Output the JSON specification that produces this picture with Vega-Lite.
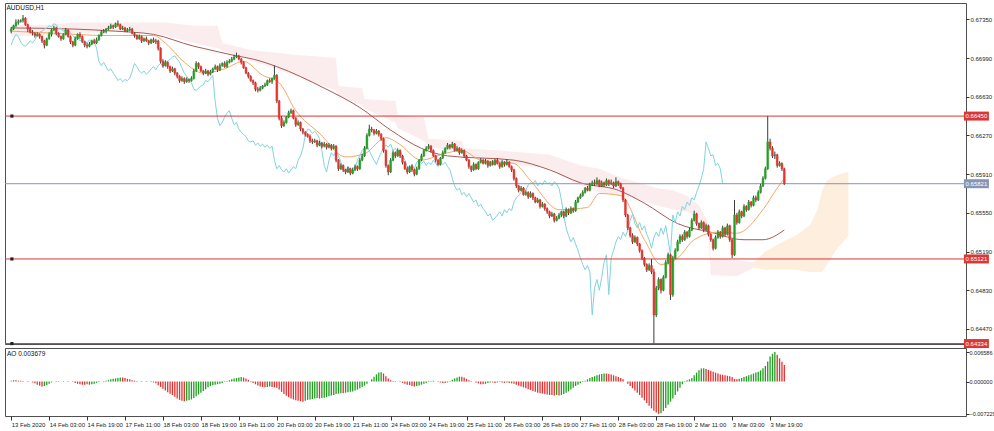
{
"$schema": "https://vega.github.io/schema/vega-lite/v6.json",
"background": "white",
"padding": {"left": 4, "top": 2, "right": 0, "bottom": 0},
"spacing": 4,
"bounds": "flush",
"config": {
 "view": {"stroke": "#505050", "strokeWidth": 1},
 "axis": {"labelFont": "Liberation Sans", "labelFontSize": 6, "labelColor": "#222222", "tickColor": "#333333", "domain": false, "grid": false, "title": null},
 "title": {"font": "Liberation Sans", "fontSize": 6.5, "fontWeight": "normal", "color": "#111111", "anchor": "start", "offset": -8, "dx": 2}
},
"datasets": {
"bars": [
{"i":0,"o":0.6724,"h":0.6728,"l":0.6722,"c":0.6726,"ao":0.0002},
{"i":1,"o":0.6726,"h":0.6730,"l":0.6725,"c":0.6729,"ao":0.0003},
{"i":2,"o":0.6729,"h":0.6735,"l":0.6728,"c":0.6732,"ao":0.0003},
{"i":3,"o":0.6732,"h":0.6735,"l":0.6730,"c":0.6733,"ao":0.0002},
{"i":4,"o":0.6733,"h":0.6735,"l":0.6732,"c":0.6734,"ao":0.0002},
{"i":5,"o":0.6734,"h":0.6739,"l":0.6732,"c":0.6736,"ao":0.0001},
{"i":6,"o":0.6736,"h":0.6737,"l":0.6729,"c":0.6730,"ao":0.0000},
{"i":7,"o":0.6730,"h":0.6731,"l":0.6723,"c":0.6726,"ao":-0.0001},
{"i":8,"o":0.6726,"h":0.6728,"l":0.6722,"c":0.6723,"ao":0.0000},
{"i":9,"o":0.6723,"h":0.6725,"l":0.6720,"c":0.6722,"ao":-0.0002},
{"i":10,"o":0.6722,"h":0.6723,"l":0.6718,"c":0.6720,"ao":-0.0004},
{"i":11,"o":0.6720,"h":0.6723,"l":0.6719,"c":0.6721,"ao":-0.0007},
{"i":12,"o":0.6721,"h":0.6722,"l":0.6717,"c":0.6719,"ao":-0.0009},
{"i":13,"o":0.6719,"h":0.6720,"l":0.6713,"c":0.6715,"ao":-0.0011},
{"i":14,"o":0.6715,"h":0.6716,"l":0.6708,"c":0.6711,"ao":-0.0010},
{"i":15,"o":0.6711,"h":0.6718,"l":0.6710,"c":0.6717,"ao":-0.0008},
{"i":16,"o":0.6717,"h":0.6723,"l":0.6716,"c":0.6721,"ao":-0.0005},
{"i":17,"o":0.6721,"h":0.6726,"l":0.6719,"c":0.6725,"ao":-0.0002},
{"i":18,"o":0.6725,"h":0.6729,"l":0.6724,"c":0.6727,"ao":0.0000},
{"i":19,"o":0.6727,"h":0.6728,"l":0.6720,"c":0.6722,"ao":0.0001},
{"i":20,"o":0.6722,"h":0.6723,"l":0.6718,"c":0.6719,"ao":0.0001},
{"i":21,"o":0.6719,"h":0.6720,"l":0.6715,"c":0.6717,"ao":0.0000},
{"i":22,"o":0.6717,"h":0.6722,"l":0.6716,"c":0.6721,"ao":-0.0001},
{"i":23,"o":0.6721,"h":0.6727,"l":0.6720,"c":0.6725,"ao":0.0000},
{"i":24,"o":0.6725,"h":0.6726,"l":0.6718,"c":0.6719,"ao":0.0001},
{"i":25,"o":0.6719,"h":0.6720,"l":0.6712,"c":0.6714,"ao":0.0000},
{"i":26,"o":0.6714,"h":0.6715,"l":0.6709,"c":0.6711,"ao":-0.0001},
{"i":27,"o":0.6711,"h":0.6719,"l":0.6710,"c":0.6717,"ao":-0.0003},
{"i":28,"o":0.6717,"h":0.6722,"l":0.6716,"c":0.6721,"ao":-0.0005},
{"i":29,"o":0.6721,"h":0.6723,"l":0.6717,"c":0.6719,"ao":-0.0006},
{"i":30,"o":0.6719,"h":0.6720,"l":0.6713,"c":0.6714,"ao":-0.0007},
{"i":31,"o":0.6714,"h":0.6715,"l":0.6709,"c":0.6711,"ao":-0.0007},
{"i":32,"o":0.6711,"h":0.6713,"l":0.6708,"c":0.6710,"ao":-0.0006},
{"i":33,"o":0.6710,"h":0.6714,"l":0.6709,"c":0.6712,"ao":-0.0007},
{"i":34,"o":0.6712,"h":0.6716,"l":0.6711,"c":0.6715,"ao":-0.0006},
{"i":35,"o":0.6715,"h":0.6717,"l":0.6712,"c":0.6713,"ao":-0.0005},
{"i":36,"o":0.6713,"h":0.6718,"l":0.6712,"c":0.6716,"ao":-0.0003},
{"i":37,"o":0.6716,"h":0.6721,"l":0.6715,"c":0.6720,"ao":-0.0001},
{"i":38,"o":0.6720,"h":0.6725,"l":0.6719,"c":0.6723,"ao":0.0000},
{"i":39,"o":0.6723,"h":0.6726,"l":0.6722,"c":0.6724,"ao":0.0001},
{"i":40,"o":0.6724,"h":0.6727,"l":0.6722,"c":0.6726,"ao":0.0002},
{"i":41,"o":0.6726,"h":0.6729,"l":0.6725,"c":0.6727,"ao":0.0003},
{"i":42,"o":0.6727,"h":0.6731,"l":0.6726,"c":0.6729,"ao":0.0005},
{"i":43,"o":0.6729,"h":0.6730,"l":0.6726,"c":0.6728,"ao":0.0006},
{"i":44,"o":0.6728,"h":0.6732,"l":0.6727,"c":0.6731,"ao":0.0007},
{"i":45,"o":0.6731,"h":0.6734,"l":0.6728,"c":0.6730,"ao":0.0008},
{"i":46,"o":0.6730,"h":0.6731,"l":0.6725,"c":0.6726,"ao":0.0009},
{"i":47,"o":0.6726,"h":0.6729,"l":0.6725,"c":0.6727,"ao":0.0009},
{"i":48,"o":0.6727,"h":0.6728,"l":0.6723,"c":0.6724,"ao":0.0008},
{"i":49,"o":0.6724,"h":0.6727,"l":0.6723,"c":0.6725,"ao":0.0006},
{"i":50,"o":0.6725,"h":0.6728,"l":0.6724,"c":0.6726,"ao":0.0005},
{"i":51,"o":0.6726,"h":0.6727,"l":0.6721,"c":0.6722,"ao":0.0003},
{"i":52,"o":0.6722,"h":0.6723,"l":0.6718,"c":0.6720,"ao":0.0002},
{"i":53,"o":0.6720,"h":0.6721,"l":0.6716,"c":0.6717,"ao":0.0001},
{"i":54,"o":0.6717,"h":0.6721,"l":0.6716,"c":0.6719,"ao":0.0000},
{"i":55,"o":0.6719,"h":0.6720,"l":0.6713,"c":0.6715,"ao":0.0001},
{"i":56,"o":0.6715,"h":0.6718,"l":0.6714,"c":0.6717,"ao":0.0000},
{"i":57,"o":0.6717,"h":0.6719,"l":0.6714,"c":0.6715,"ao":-0.0001},
{"i":58,"o":0.6715,"h":0.6716,"l":0.6711,"c":0.6713,"ao":0.0000},
{"i":59,"o":0.6713,"h":0.6717,"l":0.6712,"c":0.6716,"ao":-0.0001},
{"i":60,"o":0.6716,"h":0.6718,"l":0.6713,"c":0.6714,"ao":-0.0002},
{"i":61,"o":0.6714,"h":0.6717,"l":0.6712,"c":0.6715,"ao":-0.0004},
{"i":62,"o":0.6715,"h":0.6716,"l":0.6706,"c":0.6708,"ao":-0.0008},
{"i":63,"o":0.6708,"h":0.6709,"l":0.6694,"c":0.6696,"ao":-0.0012},
{"i":64,"o":0.6696,"h":0.6698,"l":0.6690,"c":0.6692,"ao":-0.0016},
{"i":65,"o":0.6692,"h":0.6697,"l":0.6691,"c":0.6695,"ao":-0.0020},
{"i":66,"o":0.6695,"h":0.6696,"l":0.6689,"c":0.6691,"ao":-0.0024},
{"i":67,"o":0.6691,"h":0.6692,"l":0.6685,"c":0.6687,"ao":-0.0027},
{"i":68,"o":0.6687,"h":0.6691,"l":0.6686,"c":0.6689,"ao":-0.0030},
{"i":69,"o":0.6689,"h":0.6690,"l":0.6683,"c":0.6685,"ao":-0.0034},
{"i":70,"o":0.6685,"h":0.6686,"l":0.6680,"c":0.6682,"ao":-0.0038},
{"i":71,"o":0.6682,"h":0.6683,"l":0.6676,"c":0.6678,"ao":-0.0041},
{"i":72,"o":0.6678,"h":0.6682,"l":0.6677,"c":0.6680,"ao":-0.0043},
{"i":73,"o":0.6680,"h":0.6681,"l":0.6675,"c":0.6677,"ao":-0.0044},
{"i":74,"o":0.6677,"h":0.6681,"l":0.6676,"c":0.6679,"ao":-0.0043},
{"i":75,"o":0.6679,"h":0.6680,"l":0.6676,"c":0.6678,"ao":-0.0042},
{"i":76,"o":0.6678,"h":0.6682,"l":0.6677,"c":0.6680,"ao":-0.0040},
{"i":77,"o":0.6680,"h":0.6689,"l":0.6679,"c":0.6687,"ao":-0.0037},
{"i":78,"o":0.6687,"h":0.6696,"l":0.6686,"c":0.6694,"ao":-0.0033},
{"i":79,"o":0.6694,"h":0.6695,"l":0.6689,"c":0.6691,"ao":-0.0029},
{"i":80,"o":0.6691,"h":0.6692,"l":0.6686,"c":0.6687,"ao":-0.0025},
{"i":81,"o":0.6687,"h":0.6688,"l":0.6683,"c":0.6685,"ao":-0.0021},
{"i":82,"o":0.6685,"h":0.6689,"l":0.6684,"c":0.6687,"ao":-0.0017},
{"i":83,"o":0.6687,"h":0.6688,"l":0.6682,"c":0.6684,"ao":-0.0013},
{"i":84,"o":0.6684,"h":0.6688,"l":0.6683,"c":0.6686,"ao":-0.0010},
{"i":85,"o":0.6686,"h":0.6690,"l":0.6685,"c":0.6689,"ao":-0.0008},
{"i":86,"o":0.6689,"h":0.6693,"l":0.6688,"c":0.6691,"ao":-0.0007},
{"i":87,"o":0.6691,"h":0.6692,"l":0.6686,"c":0.6688,"ao":-0.0006},
{"i":88,"o":0.6688,"h":0.6694,"l":0.6687,"c":0.6692,"ao":-0.0005},
{"i":89,"o":0.6692,"h":0.6695,"l":0.6691,"c":0.6694,"ao":-0.0003},
{"i":90,"o":0.6694,"h":0.6696,"l":0.6690,"c":0.6691,"ao":-0.0001},
{"i":91,"o":0.6691,"h":0.6697,"l":0.6690,"c":0.6695,"ao":0.0001},
{"i":92,"o":0.6695,"h":0.6698,"l":0.6694,"c":0.6696,"ao":0.0003},
{"i":93,"o":0.6696,"h":0.6700,"l":0.6695,"c":0.6698,"ao":0.0005},
{"i":94,"o":0.6698,"h":0.6702,"l":0.6697,"c":0.6700,"ao":0.0007},
{"i":95,"o":0.6700,"h":0.6704,"l":0.6699,"c":0.6701,"ao":0.0008},
{"i":96,"o":0.6701,"h":0.6702,"l":0.6697,"c":0.6698,"ao":0.0009},
{"i":97,"o":0.6698,"h":0.6699,"l":0.6693,"c":0.6695,"ao":0.0010},
{"i":98,"o":0.6695,"h":0.6696,"l":0.6689,"c":0.6690,"ao":0.0009},
{"i":99,"o":0.6690,"h":0.6691,"l":0.6684,"c":0.6685,"ao":0.0007},
{"i":100,"o":0.6685,"h":0.6686,"l":0.6680,"c":0.6682,"ao":0.0004},
{"i":101,"o":0.6682,"h":0.6683,"l":0.6677,"c":0.6678,"ao":0.0001},
{"i":102,"o":0.6678,"h":0.6679,"l":0.6674,"c":0.6676,"ao":-0.0003},
{"i":103,"o":0.6676,"h":0.6677,"l":0.6668,"c":0.6670,"ao":-0.0006},
{"i":104,"o":0.6670,"h":0.6672,"l":0.6667,"c":0.6669,"ao":-0.0009},
{"i":105,"o":0.6669,"h":0.6673,"l":0.6668,"c":0.6671,"ao":-0.0011},
{"i":106,"o":0.6671,"h":0.6674,"l":0.6670,"c":0.6673,"ao":-0.0012},
{"i":107,"o":0.6673,"h":0.6676,"l":0.6672,"c":0.6674,"ao":-0.0013},
{"i":108,"o":0.6674,"h":0.6679,"l":0.6673,"c":0.6678,"ao":-0.0012},
{"i":109,"o":0.6678,"h":0.6680,"l":0.6676,"c":0.6677,"ao":-0.0011},
{"i":110,"o":0.6677,"h":0.6681,"l":0.6675,"c":0.6680,"ao":-0.0012},
{"i":111,"o":0.6680,"h":0.6692,"l":0.6679,"c":0.6683,"ao":-0.0013},
{"i":112,"o":0.6683,"h":0.6684,"l":0.6657,"c":0.6659,"ao":-0.0014},
{"i":113,"o":0.6659,"h":0.6660,"l":0.6641,"c":0.6643,"ao":-0.0018},
{"i":114,"o":0.6643,"h":0.6645,"l":0.6634,"c":0.6636,"ao":-0.0023},
{"i":115,"o":0.6636,"h":0.6641,"l":0.6635,"c":0.6639,"ao":-0.0028},
{"i":116,"o":0.6639,"h":0.6645,"l":0.6638,"c":0.6644,"ao":-0.0032},
{"i":117,"o":0.6644,"h":0.6650,"l":0.6643,"c":0.6648,"ao":-0.0035},
{"i":118,"o":0.6648,"h":0.6652,"l":0.6647,"c":0.6650,"ao":-0.0038},
{"i":119,"o":0.6650,"h":0.6651,"l":0.6642,"c":0.6643,"ao":-0.0040},
{"i":120,"o":0.6643,"h":0.6644,"l":0.6635,"c":0.6637,"ao":-0.0042},
{"i":121,"o":0.6637,"h":0.6641,"l":0.6636,"c":0.6639,"ao":-0.0043},
{"i":122,"o":0.6639,"h":0.6640,"l":0.6631,"c":0.6633,"ao":-0.0044},
{"i":123,"o":0.6633,"h":0.6634,"l":0.6628,"c":0.6630,"ao":-0.0045},
{"i":124,"o":0.6630,"h":0.6631,"l":0.6626,"c":0.6628,"ao":-0.0043},
{"i":125,"o":0.6628,"h":0.6629,"l":0.6625,"c":0.6626,"ao":-0.0041},
{"i":126,"o":0.6626,"h":0.6628,"l":0.6620,"c":0.6622,"ao":-0.0040},
{"i":127,"o":0.6622,"h":0.6624,"l":0.6619,"c":0.6621,"ao":-0.0039},
{"i":128,"o":0.6621,"h":0.6624,"l":0.6620,"c":0.6622,"ao":-0.0038},
{"i":129,"o":0.6622,"h":0.6623,"l":0.6616,"c":0.6618,"ao":-0.0037},
{"i":130,"o":0.6618,"h":0.6622,"l":0.6617,"c":0.6620,"ao":-0.0038},
{"i":131,"o":0.6620,"h":0.6621,"l":0.6615,"c":0.6617,"ao":-0.0037},
{"i":132,"o":0.6617,"h":0.6621,"l":0.6616,"c":0.6619,"ao":-0.0036},
{"i":133,"o":0.6619,"h":0.6620,"l":0.6614,"c":0.6616,"ao":-0.0035},
{"i":134,"o":0.6616,"h":0.6620,"l":0.6615,"c":0.6618,"ao":-0.0033},
{"i":135,"o":0.6618,"h":0.6619,"l":0.6613,"c":0.6615,"ao":-0.0031},
{"i":136,"o":0.6615,"h":0.6619,"l":0.6614,"c":0.6617,"ao":-0.0030},
{"i":137,"o":0.6617,"h":0.6618,"l":0.6602,"c":0.6604,"ao":-0.0028},
{"i":138,"o":0.6604,"h":0.6605,"l":0.6594,"c":0.6596,"ao":-0.0027},
{"i":139,"o":0.6596,"h":0.6601,"l":0.6595,"c":0.6599,"ao":-0.0026},
{"i":140,"o":0.6599,"h":0.6600,"l":0.6593,"c":0.6595,"ao":-0.0026},
{"i":141,"o":0.6595,"h":0.6596,"l":0.6591,"c":0.6593,"ao":-0.0025},
{"i":142,"o":0.6593,"h":0.6598,"l":0.6592,"c":0.6596,"ao":-0.0024},
{"i":143,"o":0.6596,"h":0.6597,"l":0.6590,"c":0.6592,"ao":-0.0023},
{"i":144,"o":0.6592,"h":0.6597,"l":0.6591,"c":0.6595,"ao":-0.0022},
{"i":145,"o":0.6595,"h":0.6600,"l":0.6594,"c":0.6598,"ao":-0.0020},
{"i":146,"o":0.6598,"h":0.6599,"l":0.6594,"c":0.6596,"ao":-0.0018},
{"i":147,"o":0.6596,"h":0.6606,"l":0.6595,"c":0.6604,"ao":-0.0015},
{"i":148,"o":0.6604,"h":0.6610,"l":0.6603,"c":0.6608,"ao":-0.0012},
{"i":149,"o":0.6608,"h":0.6617,"l":0.6607,"c":0.6615,"ao":-0.0009},
{"i":150,"o":0.6615,"h":0.6629,"l":0.6614,"c":0.6627,"ao":-0.0005},
{"i":151,"o":0.6627,"h":0.6637,"l":0.6626,"c":0.6633,"ao":0.0000},
{"i":152,"o":0.6633,"h":0.6635,"l":0.6630,"c":0.6632,"ao":0.0005},
{"i":153,"o":0.6632,"h":0.6633,"l":0.6627,"c":0.6629,"ao":0.0011},
{"i":154,"o":0.6629,"h":0.6633,"l":0.6628,"c":0.6631,"ao":0.0016},
{"i":155,"o":0.6631,"h":0.6632,"l":0.6626,"c":0.6628,"ao":0.0020},
{"i":156,"o":0.6628,"h":0.6629,"l":0.6622,"c":0.6624,"ao":0.0021},
{"i":157,"o":0.6624,"h":0.6625,"l":0.6611,"c":0.6613,"ao":0.0018},
{"i":158,"o":0.6613,"h":0.6614,"l":0.6597,"c":0.6599,"ao":0.0012},
{"i":159,"o":0.6599,"h":0.6600,"l":0.6590,"c":0.6593,"ao":0.0007},
{"i":160,"o":0.6593,"h":0.6606,"l":0.6592,"c":0.6604,"ao":0.0003},
{"i":161,"o":0.6604,"h":0.6613,"l":0.6603,"c":0.6611,"ao":0.0001},
{"i":162,"o":0.6611,"h":0.6612,"l":0.6606,"c":0.6608,"ao":-0.0001},
{"i":163,"o":0.6608,"h":0.6615,"l":0.6607,"c":0.6613,"ao":0.0000},
{"i":164,"o":0.6613,"h":0.6614,"l":0.6606,"c":0.6608,"ao":-0.0001},
{"i":165,"o":0.6608,"h":0.6609,"l":0.6600,"c":0.6602,"ao":-0.0003},
{"i":166,"o":0.6602,"h":0.6603,"l":0.6595,"c":0.6596,"ao":-0.0005},
{"i":167,"o":0.6596,"h":0.6598,"l":0.6591,"c":0.6593,"ao":-0.0007},
{"i":168,"o":0.6593,"h":0.6599,"l":0.6592,"c":0.6598,"ao":-0.0008},
{"i":169,"o":0.6598,"h":0.6600,"l":0.6593,"c":0.6595,"ao":-0.0010},
{"i":170,"o":0.6595,"h":0.6596,"l":0.6589,"c":0.6591,"ao":-0.0011},
{"i":171,"o":0.6591,"h":0.6598,"l":0.6590,"c":0.6596,"ao":-0.0010},
{"i":172,"o":0.6596,"h":0.6605,"l":0.6595,"c":0.6604,"ao":-0.0009},
{"i":173,"o":0.6604,"h":0.6610,"l":0.6603,"c":0.6608,"ao":-0.0007},
{"i":174,"o":0.6608,"h":0.6614,"l":0.6607,"c":0.6613,"ao":-0.0005},
{"i":175,"o":0.6613,"h":0.6617,"l":0.6612,"c":0.6615,"ao":-0.0003},
{"i":176,"o":0.6615,"h":0.6619,"l":0.6614,"c":0.6617,"ao":-0.0001},
{"i":177,"o":0.6617,"h":0.6618,"l":0.6611,"c":0.6613,"ao":0.0001},
{"i":178,"o":0.6613,"h":0.6614,"l":0.6607,"c":0.6608,"ao":0.0002},
{"i":179,"o":0.6608,"h":0.6609,"l":0.6602,"c":0.6604,"ao":0.0000},
{"i":180,"o":0.6604,"h":0.6605,"l":0.6599,"c":0.6600,"ao":-0.0001},
{"i":181,"o":0.6600,"h":0.6607,"l":0.6599,"c":0.6606,"ao":-0.0002},
{"i":182,"o":0.6606,"h":0.6613,"l":0.6605,"c":0.6611,"ao":-0.0003},
{"i":183,"o":0.6611,"h":0.6616,"l":0.6610,"c":0.6615,"ao":-0.0003},
{"i":184,"o":0.6615,"h":0.6620,"l":0.6614,"c":0.6618,"ao":-0.0002},
{"i":185,"o":0.6618,"h":0.6619,"l":0.6614,"c":0.6616,"ao":0.0001},
{"i":186,"o":0.6616,"h":0.6621,"l":0.6615,"c":0.6619,"ao":0.0004},
{"i":187,"o":0.6619,"h":0.6620,"l":0.6612,"c":0.6613,"ao":0.0007},
{"i":188,"o":0.6613,"h":0.6617,"l":0.6612,"c":0.6615,"ao":0.0009},
{"i":189,"o":0.6615,"h":0.6616,"l":0.6609,"c":0.6611,"ao":0.0011},
{"i":190,"o":0.6611,"h":0.6615,"l":0.6610,"c":0.6613,"ao":0.0011},
{"i":191,"o":0.6613,"h":0.6614,"l":0.6606,"c":0.6608,"ao":0.0009},
{"i":192,"o":0.6608,"h":0.6609,"l":0.6603,"c":0.6604,"ao":0.0006},
{"i":193,"o":0.6604,"h":0.6605,"l":0.6596,"c":0.6598,"ao":0.0003},
{"i":194,"o":0.6598,"h":0.6599,"l":0.6593,"c":0.6595,"ao":0.0001},
{"i":195,"o":0.6595,"h":0.6602,"l":0.6594,"c":0.6600,"ao":0.0000},
{"i":196,"o":0.6600,"h":0.6601,"l":0.6595,"c":0.6596,"ao":-0.0002},
{"i":197,"o":0.6596,"h":0.6603,"l":0.6595,"c":0.6602,"ao":-0.0004},
{"i":198,"o":0.6602,"h":0.6606,"l":0.6601,"c":0.6604,"ao":-0.0006},
{"i":199,"o":0.6604,"h":0.6605,"l":0.6600,"c":0.6601,"ao":-0.0006},
{"i":200,"o":0.6601,"h":0.6605,"l":0.6600,"c":0.6603,"ao":-0.0005},
{"i":201,"o":0.6603,"h":0.6604,"l":0.6597,"c":0.6599,"ao":-0.0003},
{"i":202,"o":0.6599,"h":0.6603,"l":0.6598,"c":0.6602,"ao":-0.0002},
{"i":203,"o":0.6602,"h":0.6604,"l":0.6599,"c":0.6600,"ao":-0.0002},
{"i":204,"o":0.6600,"h":0.6605,"l":0.6599,"c":0.6604,"ao":-0.0003},
{"i":205,"o":0.6604,"h":0.6606,"l":0.6600,"c":0.6601,"ao":-0.0002},
{"i":206,"o":0.6601,"h":0.6602,"l":0.6596,"c":0.6598,"ao":-0.0001},
{"i":207,"o":0.6598,"h":0.6604,"l":0.6597,"c":0.6602,"ao":-0.0002},
{"i":208,"o":0.6602,"h":0.6603,"l":0.6598,"c":0.6600,"ao":-0.0003},
{"i":209,"o":0.6600,"h":0.6605,"l":0.6599,"c":0.6602,"ao":-0.0002},
{"i":210,"o":0.6602,"h":0.6603,"l":0.6597,"c":0.6598,"ao":-0.0003},
{"i":211,"o":0.6598,"h":0.6599,"l":0.6593,"c":0.6595,"ao":-0.0004},
{"i":212,"o":0.6595,"h":0.6596,"l":0.6585,"c":0.6587,"ao":-0.0005},
{"i":213,"o":0.6587,"h":0.6588,"l":0.6578,"c":0.6580,"ao":-0.0007},
{"i":214,"o":0.6580,"h":0.6581,"l":0.6574,"c":0.6576,"ao":-0.0009},
{"i":215,"o":0.6576,"h":0.6580,"l":0.6575,"c":0.6578,"ao":-0.0011},
{"i":216,"o":0.6578,"h":0.6579,"l":0.6571,"c":0.6572,"ao":-0.0013},
{"i":217,"o":0.6572,"h":0.6576,"l":0.6571,"c":0.6574,"ao":-0.0015},
{"i":218,"o":0.6574,"h":0.6575,"l":0.6568,"c":0.6570,"ao":-0.0017},
{"i":219,"o":0.6570,"h":0.6575,"l":0.6569,"c":0.6573,"ao":-0.0019},
{"i":220,"o":0.6573,"h":0.6574,"l":0.6567,"c":0.6569,"ao":-0.0021},
{"i":221,"o":0.6569,"h":0.6570,"l":0.6564,"c":0.6565,"ao":-0.0023},
{"i":222,"o":0.6565,"h":0.6569,"l":0.6564,"c":0.6567,"ao":-0.0025},
{"i":223,"o":0.6567,"h":0.6568,"l":0.6559,"c":0.6561,"ao":-0.0026},
{"i":224,"o":0.6561,"h":0.6565,"l":0.6560,"c":0.6563,"ao":-0.0027},
{"i":225,"o":0.6563,"h":0.6564,"l":0.6557,"c":0.6559,"ao":-0.0028},
{"i":226,"o":0.6559,"h":0.6560,"l":0.6554,"c":0.6556,"ao":-0.0029},
{"i":227,"o":0.6556,"h":0.6557,"l":0.6550,"c":0.6552,"ao":-0.0030},
{"i":228,"o":0.6552,"h":0.6556,"l":0.6551,"c":0.6554,"ao":-0.0030},
{"i":229,"o":0.6554,"h":0.6555,"l":0.6546,"c":0.6548,"ao":-0.0031},
{"i":230,"o":0.6548,"h":0.6552,"l":0.6547,"c":0.6550,"ao":-0.0030},
{"i":231,"o":0.6550,"h":0.6555,"l":0.6549,"c":0.6553,"ao":-0.0031},
{"i":232,"o":0.6553,"h":0.6557,"l":0.6551,"c":0.6556,"ao":-0.0030},
{"i":233,"o":0.6556,"h":0.6557,"l":0.6550,"c":0.6552,"ao":-0.0028},
{"i":234,"o":0.6552,"h":0.6560,"l":0.6551,"c":0.6558,"ao":-0.0025},
{"i":235,"o":0.6558,"h":0.6559,"l":0.6553,"c":0.6555,"ao":-0.0022},
{"i":236,"o":0.6555,"h":0.6561,"l":0.6554,"c":0.6559,"ao":-0.0018},
{"i":237,"o":0.6559,"h":0.6560,"l":0.6555,"c":0.6557,"ao":-0.0014},
{"i":238,"o":0.6557,"h":0.6567,"l":0.6556,"c":0.6565,"ao":-0.0010},
{"i":239,"o":0.6565,"h":0.6570,"l":0.6564,"c":0.6569,"ao":-0.0007},
{"i":240,"o":0.6569,"h":0.6573,"l":0.6568,"c":0.6571,"ao":-0.0004},
{"i":241,"o":0.6571,"h":0.6576,"l":0.6570,"c":0.6574,"ao":-0.0001},
{"i":242,"o":0.6574,"h":0.6579,"l":0.6573,"c":0.6578,"ao":0.0002},
{"i":243,"o":0.6578,"h":0.6580,"l":0.6575,"c":0.6576,"ao":0.0005},
{"i":244,"o":0.6576,"h":0.6583,"l":0.6575,"c":0.6581,"ao":0.0008},
{"i":245,"o":0.6581,"h":0.6585,"l":0.6580,"c":0.6583,"ao":0.0010},
{"i":246,"o":0.6583,"h":0.6586,"l":0.6580,"c":0.6582,"ao":0.0012},
{"i":247,"o":0.6582,"h":0.6588,"l":0.6581,"c":0.6585,"ao":0.0014},
{"i":248,"o":0.6585,"h":0.6586,"l":0.6579,"c":0.6580,"ao":0.0016},
{"i":249,"o":0.6580,"h":0.6585,"l":0.6579,"c":0.6583,"ao":0.0017},
{"i":250,"o":0.6583,"h":0.6584,"l":0.6579,"c":0.6581,"ao":0.0018},
{"i":251,"o":0.6581,"h":0.6587,"l":0.6580,"c":0.6585,"ao":0.0018},
{"i":252,"o":0.6585,"h":0.6586,"l":0.6580,"c":0.6582,"ao":0.0017},
{"i":253,"o":0.6582,"h":0.6586,"l":0.6581,"c":0.6583,"ao":0.0016},
{"i":254,"o":0.6583,"h":0.6584,"l":0.6578,"c":0.6580,"ao":0.0014},
{"i":255,"o":0.6580,"h":0.6588,"l":0.6579,"c":0.6584,"ao":0.0012},
{"i":256,"o":0.6584,"h":0.6585,"l":0.6580,"c":0.6582,"ao":0.0010},
{"i":257,"o":0.6582,"h":0.6583,"l":0.6577,"c":0.6578,"ao":0.0008},
{"i":258,"o":0.6578,"h":0.6579,"l":0.6565,"c":0.6567,"ao":0.0005},
{"i":259,"o":0.6567,"h":0.6568,"l":0.6551,"c":0.6553,"ao":0.0000},
{"i":260,"o":0.6553,"h":0.6554,"l":0.6539,"c":0.6541,"ao":-0.0005},
{"i":261,"o":0.6541,"h":0.6542,"l":0.6532,"c":0.6534,"ao":-0.0010},
{"i":262,"o":0.6534,"h":0.6536,"l":0.6526,"c":0.6528,"ao":-0.0015},
{"i":263,"o":0.6528,"h":0.6534,"l":0.6527,"c":0.6532,"ao":-0.0020},
{"i":264,"o":0.6532,"h":0.6533,"l":0.6524,"c":0.6526,"ao":-0.0025},
{"i":265,"o":0.6526,"h":0.6527,"l":0.6518,"c":0.6520,"ao":-0.0030},
{"i":266,"o":0.6520,"h":0.6521,"l":0.6511,"c":0.6513,"ao":-0.0036},
{"i":267,"o":0.6513,"h":0.6514,"l":0.6505,"c":0.6507,"ao":-0.0042},
{"i":268,"o":0.6507,"h":0.6508,"l":0.6500,"c":0.6502,"ao":-0.0048},
{"i":269,"o":0.6502,"h":0.6508,"l":0.6501,"c":0.6506,"ao":-0.0054},
{"i":270,"o":0.6506,"h":0.6512,"l":0.6498,"c":0.6500,"ao":-0.0060},
{"i":271,"o":0.6500,"h":0.6503,"l":0.64334,"c":0.6460,"ao":-0.0065},
{"i":272,"o":0.6460,"h":0.6487,"l":0.6458,"c":0.6485,"ao":-0.0069},
{"i":273,"o":0.6485,"h":0.6495,"l":0.6483,"c":0.6493,"ao":-0.007229},
{"i":274,"o":0.6493,"h":0.6494,"l":0.6480,"c":0.6483,"ao":-0.0071},
{"i":275,"o":0.6483,"h":0.6497,"l":0.6482,"c":0.6495,"ao":-0.0066},
{"i":276,"o":0.6495,"h":0.6511,"l":0.6494,"c":0.6509,"ao":-0.0059},
{"i":277,"o":0.6509,"h":0.6518,"l":0.6507,"c":0.6516,"ao":-0.0052},
{"i":278,"o":0.6516,"h":0.6517,"l":0.6474,"c":0.6479,"ao":-0.0045},
{"i":279,"o":0.6479,"h":0.6515,"l":0.6477,"c":0.6513,"ao":-0.0038},
{"i":280,"o":0.6513,"h":0.6522,"l":0.6512,"c":0.6520,"ao":-0.0030},
{"i":281,"o":0.6520,"h":0.6530,"l":0.6519,"c":0.6528,"ao":-0.0022},
{"i":282,"o":0.6528,"h":0.6535,"l":0.6526,"c":0.6533,"ao":-0.0014},
{"i":283,"o":0.6533,"h":0.6535,"l":0.6528,"c":0.6530,"ao":-0.0006},
{"i":284,"o":0.6530,"h":0.6539,"l":0.6529,"c":0.6537,"ao":0.0001},
{"i":285,"o":0.6537,"h":0.6538,"l":0.6531,"c":0.6533,"ao":0.0003},
{"i":286,"o":0.6533,"h":0.6541,"l":0.6532,"c":0.6539,"ao":0.0005},
{"i":287,"o":0.6539,"h":0.6550,"l":0.6538,"c":0.6548,"ao":0.0008},
{"i":288,"o":0.6548,"h":0.6557,"l":0.6547,"c":0.6554,"ao":0.0014},
{"i":289,"o":0.6554,"h":0.6555,"l":0.6543,"c":0.6545,"ao":0.0020},
{"i":290,"o":0.6545,"h":0.6546,"l":0.6539,"c":0.6541,"ao":0.0025},
{"i":291,"o":0.6541,"h":0.6548,"l":0.6540,"c":0.6546,"ao":0.0029},
{"i":292,"o":0.6546,"h":0.6547,"l":0.6537,"c":0.6539,"ao":0.0030},
{"i":293,"o":0.6539,"h":0.6545,"l":0.6538,"c":0.6543,"ao":0.0028},
{"i":294,"o":0.6543,"h":0.6544,"l":0.6533,"c":0.6535,"ao":0.0026},
{"i":295,"o":0.6535,"h":0.6536,"l":0.6528,"c":0.6530,"ao":0.0024},
{"i":296,"o":0.6530,"h":0.6531,"l":0.6520,"c":0.6522,"ao":0.0022},
{"i":297,"o":0.6522,"h":0.6534,"l":0.6521,"c":0.6532,"ao":0.0020},
{"i":298,"o":0.6532,"h":0.6539,"l":0.6531,"c":0.6537,"ao":0.0018},
{"i":299,"o":0.6537,"h":0.6538,"l":0.6531,"c":0.6533,"ao":0.0016},
{"i":300,"o":0.6533,"h":0.6543,"l":0.6532,"c":0.6541,"ao":0.0015},
{"i":301,"o":0.6541,"h":0.6542,"l":0.6533,"c":0.6535,"ao":0.0014},
{"i":302,"o":0.6535,"h":0.6545,"l":0.6534,"c":0.6543,"ao":0.0013},
{"i":303,"o":0.6543,"h":0.6544,"l":0.6528,"c":0.6530,"ao":0.0012},
{"i":304,"o":0.6530,"h":0.6531,"l":0.6513,"c":0.6516,"ao":0.0010},
{"i":305,"o":0.6516,"h":0.6567,"l":0.6515,"c":0.6553,"ao":0.0006},
{"i":306,"o":0.6553,"h":0.6555,"l":0.6544,"c":0.6546,"ao":0.0005},
{"i":307,"o":0.6546,"h":0.6558,"l":0.6545,"c":0.6556,"ao":0.0006},
{"i":308,"o":0.6556,"h":0.6557,"l":0.6550,"c":0.6552,"ao":0.0008},
{"i":309,"o":0.6552,"h":0.6563,"l":0.6551,"c":0.6561,"ao":0.0010},
{"i":310,"o":0.6561,"h":0.6562,"l":0.6556,"c":0.6558,"ao":0.0012},
{"i":311,"o":0.6558,"h":0.6567,"l":0.6557,"c":0.6565,"ao":0.0014},
{"i":312,"o":0.6565,"h":0.6566,"l":0.6560,"c":0.6562,"ao":0.0016},
{"i":313,"o":0.6562,"h":0.6571,"l":0.6561,"c":0.6569,"ao":0.0018},
{"i":314,"o":0.6569,"h":0.6571,"l":0.6565,"c":0.6567,"ao":0.0020},
{"i":315,"o":0.6567,"h":0.6576,"l":0.6566,"c":0.6574,"ao":0.0022},
{"i":316,"o":0.6574,"h":0.6582,"l":0.6573,"c":0.6580,"ao":0.0025},
{"i":317,"o":0.6580,"h":0.6589,"l":0.6579,"c":0.6587,"ao":0.0030},
{"i":318,"o":0.6587,"h":0.6598,"l":0.6586,"c":0.6596,"ao":0.0035},
{"i":319,"o":0.6596,"h":0.6645,"l":0.6595,"c":0.6621,"ao":0.0045},
{"i":320,"o":0.6621,"h":0.6624,"l":0.6613,"c":0.6615,"ao":0.0056},
{"i":321,"o":0.6615,"h":0.6617,"l":0.6606,"c":0.6608,"ao":0.0062},
{"i":322,"o":0.6608,"h":0.6612,"l":0.6605,"c":0.6609,"ao":0.006586},
{"i":323,"o":0.6609,"h":0.6610,"l":0.6597,"c":0.6599,"ao":0.0060},
{"i":324,"o":0.6599,"h":0.6603,"l":0.6598,"c":0.6601,"ao":0.0052},
{"i":325,"o":0.6601,"h":0.6602,"l":0.6594,"c":0.6596,"ao":0.0044},
{"i":326,"o":0.6596,"h":0.6597,"l":0.6581,"c":0.65821,"ao":0.003679}
],
"sma": [
{"i":0,"v":0.6727},{"i":26,"v":0.6726},{"i":44,"v":0.6724},{"i":60,"v":0.6721},{"i":77,"v":0.6710},{"i":81,"v":0.6708},{"i":95,"v":0.6701},{"i":102,"v":0.6698},{"i":112,"v":0.6691},{"i":132,"v":0.6671},{"i":147,"v":0.6653},{"i":160,"v":0.6632},{"i":173,"v":0.6615},{"i":184,"v":0.6608},{"i":212,"v":0.6604},{"i":227,"v":0.6595},{"i":240,"v":0.6583},{"i":256,"v":0.6576},{"i":267,"v":0.6564},{"i":281,"v":0.6545},{"i":295,"v":0.6537},{"i":309,"v":0.6530},{"i":317,"v":0.6530},{"i":326,"v":0.6539}
],
"fast": [
{"i":0,"v":0.6724},{"i":19,"v":0.6722},{"i":40,"v":0.6720},{"i":60,"v":0.6720},{"i":65,"v":0.6713},{"i":73,"v":0.6695},{"i":81,"v":0.6685},{"i":90,"v":0.6689},{"i":98,"v":0.6696},{"i":106,"v":0.6683},{"i":113,"v":0.6676},{"i":120,"v":0.6650},{"i":130,"v":0.6629},{"i":141,"v":0.6607},{"i":149,"v":0.6610},{"i":158,"v":0.6625},{"i":163,"v":0.6620},{"i":173,"v":0.6604},{"i":181,"v":0.6609},{"i":190,"v":0.6613},{"i":198,"v":0.6604},{"i":212,"v":0.6601},{"i":219,"v":0.6585},{"i":231,"v":0.6558},{"i":243,"v":0.6560},{"i":248,"v":0.6573},{"i":257,"v":0.6571},{"i":267,"v":0.6530},{"i":274,"v":0.6507},{"i":281,"v":0.6513},{"i":288,"v":0.6530},{"i":298,"v":0.6537},{"i":306,"v":0.6536},{"i":317,"v":0.6558},{"i":323,"v":0.6578},{"i":326,"v":0.6587}
],
"cloud": [
{"i":0,"a":0.6730,"b":0.6719,"kind":"bear"},{"i":15,"a":0.6730,"b":0.6720,"kind":"bear"},{"i":27,"a":0.6732,"b":0.6722,"kind":"bear"},{"i":52,"a":0.6732,"b":0.6724,"kind":"bear"},{"i":65,"a":0.6732,"b":0.6720,"kind":"bear"},{"i":77,"a":0.6729,"b":0.6713,"kind":"bear"},{"i":87,"a":0.6729,"b":0.6708,"kind":"bear"},{"i":89,"a":0.6713,"b":0.6706,"kind":"bear"},{"i":102,"a":0.6706,"b":0.6696,"kind":"bear"},{"i":112,"a":0.6704,"b":0.6689,"kind":"bear"},{"i":119,"a":0.6702,"b":0.6683,"kind":"bear"},{"i":127,"a":0.6701,"b":0.6676,"kind":"bear"},{"i":137,"a":0.6699,"b":0.6669,"kind":"bear"},{"i":138,"a":0.6673,"b":0.6664,"kind":"bear"},{"i":148,"a":0.6671,"b":0.6655,"kind":"bear"},{"i":149,"a":0.6661,"b":0.6652,"kind":"bear"},{"i":162,"a":0.6659,"b":0.6639,"kind":"bear"},{"i":163,"a":0.6646,"b":0.6634,"kind":"bear"},{"i":174,"a":0.6644,"b":0.6622,"kind":"bear"},{"i":176,"a":0.6624,"b":0.6617,"kind":"bear"},{"i":190,"a":0.6622,"b":0.6611,"kind":"bear"},{"i":191,"a":0.6615,"b":0.6608,"kind":"bear"},{"i":206,"a":0.6613,"b":0.6602,"kind":"bear"},{"i":227,"a":0.6609,"b":0.6596,"kind":"bear"},{"i":231,"a":0.6606,"b":0.6590,"kind":"bear"},{"i":240,"a":0.6599,"b":0.6581,"kind":"bear"},{"i":248,"a":0.6596,"b":0.6574,"kind":"bear"},{"i":258,"a":0.6587,"b":0.6571,"kind":"bear"},{"i":265,"a":0.6583,"b":0.6567,"kind":"bear"},{"i":272,"a":0.6578,"b":0.6562,"kind":"bear"},{"i":279,"a":0.6576,"b":0.6558,"kind":"bear"},{"i":285,"a":0.6571,"b":0.6556,"kind":"bear"},{"i":290,"a":0.6562,"b":0.6550,"kind":"bear"},{"i":294,"a":0.6546,"b":0.6534,"kind":"bear"},{"i":295,"a":0.6513,"b":0.6497,"kind":"bear"},{"i":306,"a":0.6511,"b":0.6496,"kind":"bear"},{"i":313,"a":0.6509,"b":0.6504,"kind":"bear"},
{"i":313,"a":0.6509,"b":0.6504,"kind":"bull"},{"i":318,"a":0.6519,"b":0.6502,"kind":"bull"},{"i":327,"a":0.6530,"b":0.6502,"kind":"bull"},{"i":331,"a":0.6534,"b":0.6502,"kind":"bull"},{"i":337,"a":0.6544,"b":0.6500,"kind":"bull"},{"i":340,"a":0.6558,"b":0.6500,"kind":"bull"},{"i":342,"a":0.6576,"b":0.6500,"kind":"bull"},{"i":344,"a":0.6585,"b":0.6507,"kind":"bull"},{"i":348,"a":0.6590,"b":0.6521,"kind":"bull"},{"i":353,"a":0.6593,"b":0.6534,"kind":"bull"}
],
"levels": [
{"p":0.6645,"kind":"level"},{"p":0.65121,"kind":"level"},{"p":0.64334,"kind":"level"},{"p":0.65821,"kind":"bid"}
]
},
"vconcat": [
{
"width": 961,
"height": 341,
"title": {"text": "AUDUSD,H1"},
"layer": [
{"data": {"name": "cloud"},
 "mark": {"type": "area", "interpolate": "linear"},
 "encoding": {
  "x": {"field": "i", "type": "quantitative", "scale": {"domain": [-0.5, 400.5], "nice": false, "zero": false}, "axis": null},
  "y": {"field": "a", "type": "quantitative", "scale": {"domain": [0.6433, 0.67502], "nice": false, "zero": false},
        "axis": {"orient": "right", "values": [0.6447,0.6465,0.6483,0.6501,0.6519,0.6537,0.6555,0.6573,0.6591,0.6609,0.6627,0.6645,0.6663,0.6681,0.6699,0.6717,0.6735], "format": ".5f", "tickSize": 3, "labelPadding": 1}},
  "y2": {"field": "b"},
  "color": {"field": "kind", "type": "nominal", "scale": {"domain": ["bear", "bull", "level", "bid"], "range": ["#fbeded", "#fdeedd", "#d93636", "#8496b6"]}, "legend": null}
 }},
{"data": {"name": "sma"},
 "mark": {"type": "line", "color": "#a95a56", "strokeWidth": 1, "interpolate": "monotone"},
 "encoding": {
  "x": {"field": "i", "type": "quantitative", "scale": {"domain": [-0.5, 400.5], "nice": false, "zero": false}},
  "y": {"field": "v", "type": "quantitative"}
 }},
{"data": {"name": "fast"},
 "mark": {"type": "line", "color": "#f2a86a", "strokeWidth": 1, "interpolate": "monotone"},
 "encoding": {
  "x": {"field": "i", "type": "quantitative", "scale": {"domain": [-0.5, 400.5], "nice": false, "zero": false}},
  "y": {"field": "v", "type": "quantitative"}
 }},
{"data": {"name": "bars"},
 "transform": [
  {"window": [{"op": "lead", "field": "c", "param": 26, "as": "ck"}], "sort": [{"field": "i", "order": "ascending"}]},
  {"filter": "datum.ck != null"}
 ],
 "mark": {"type": "line", "color": "#7fd4de", "strokeWidth": 1},
 "encoding": {
  "x": {"field": "i", "type": "quantitative", "scale": {"domain": [-0.5, 400.5], "nice": false, "zero": false}},
  "y": {"field": "ck", "type": "quantitative"}
 }},
{"data": {"name": "levels"},
 "mark": {"type": "rule", "strokeWidth": 1},
 "encoding": {
  "y": {"field": "p", "type": "quantitative"},
  "color": {"field": "kind", "type": "nominal", "legend": null}
 }},
{"data": {"name": "levels"},
 "transform": [{"filter": "datum.kind == 'level'"}],
 "mark": {"type": "point", "shape": "square", "size": 10, "filled": true, "color": "#222222", "opacity": 1},
 "encoding": {
  "x": {"datum": 0.3, "type": "quantitative"},
  "y": {"field": "p", "type": "quantitative"}
 }},
{"data": {"name": "bars"},
 "mark": {"type": "rule", "strokeWidth": 1, "color": "#3c3c3c"},
 "encoding": {
  "x": {"field": "i", "type": "quantitative", "scale": {"domain": [-0.5, 400.5], "nice": false, "zero": false}},
  "y": {"field": "l", "type": "quantitative"},
  "y2": {"field": "h"}
 }},
{"data": {"name": "bars"},
 "mark": {"type": "bar", "size": 1.8, "strokeWidth": 0.5},
 "encoding": {
  "x": {"field": "i", "type": "quantitative", "scale": {"domain": [-0.5, 400.5], "nice": false, "zero": false}},
  "y": {"field": "o", "type": "quantitative"},
  "y2": {"field": "c"},
  "fill": {"condition": {"test": "datum.c >= datum.o", "value": "#24a124"}, "value": "#e8332e"},
  "stroke": {"condition": {"test": "datum.c >= datum.o", "value": "#24a124"}, "value": "#e8332e"}
 }},
{"data": {"name": "levels"},
 "mark": {"type": "point", "shape": "M-1,-0.36H1V0.36H-1Z", "size": 625, "filled": true, "opacity": 1},
 "encoding": {
  "x": {"datum": 407, "type": "quantitative"},
  "y": {"field": "p", "type": "quantitative"},
  "color": {"field": "kind", "type": "nominal", "legend": null}
 }},
{"data": {"name": "levels"},
 "mark": {"type": "text", "color": "white", "font": "Liberation Sans", "fontSize": 6, "align": "center", "baseline": "middle"},
 "encoding": {
  "x": {"datum": 407, "type": "quantitative"},
  "y": {"field": "p", "type": "quantitative"},
  "text": {"field": "p", "type": "quantitative", "format": ".5f"}
 }}
]
},
{
"width": 961,
"height": 68,
"title": {"text": "AO 0.003679", "offset": -9},
"data": {"name": "bars"},
"transform": [
 {"window": [{"op": "lag", "field": "ao", "as": "prev"}], "sort": [{"field": "i", "order": "ascending"}]}
],
"mark": {"type": "bar", "size": 1.3},
"encoding": {
 "x": {"field": "i", "type": "quantitative", "scale": {"domain": [-0.5, 400.5], "nice": false, "zero": false},
       "axis": {"values": [0,16,32,48,64,80,96,112,128,144,160,176,192,208,224,240,256,272,288,304,320],
                "labelExpr": "['13 Feb 2020','14 Feb 03:00','14 Feb 19:00','17 Feb 11:00','18 Feb 03:00','18 Feb 19:00','19 Feb 11:00','20 Feb 03:00','20 Feb 19:00','21 Feb 11:00','24 Feb 03:00','24 Feb 19:00','25 Feb 11:00','26 Feb 03:00','26 Feb 19:00','27 Feb 11:00','28 Feb 03:00','28 Feb 19:00','2 Mar 11:00','3 Mar 03:00','3 Mar 19:00'][round(datum.value/16)]",
                "labelAlign": "left", "labelFlush": false, "labelOverlap": false, "labelPadding": 1, "tickSize": 4, "labelBaseline": "top", "labelFontSize": 6}},
 "y": {"field": "ao", "type": "quantitative", "scale": {"domain": [-0.0077, 0.0075], "nice": false, "zero": false},
       "axis": {"orient": "right", "values": [0.006586, 0, -0.007229], "format": ".6f", "tickSize": 3, "labelPadding": 0, "labelFontSize": 5.5}},
 "y2": {"datum": 0},
 "color": {"condition": {"test": "datum.ao > datum.prev", "value": "#1f9e1f"}, "value": "#e63030"}
}
}
]
}
